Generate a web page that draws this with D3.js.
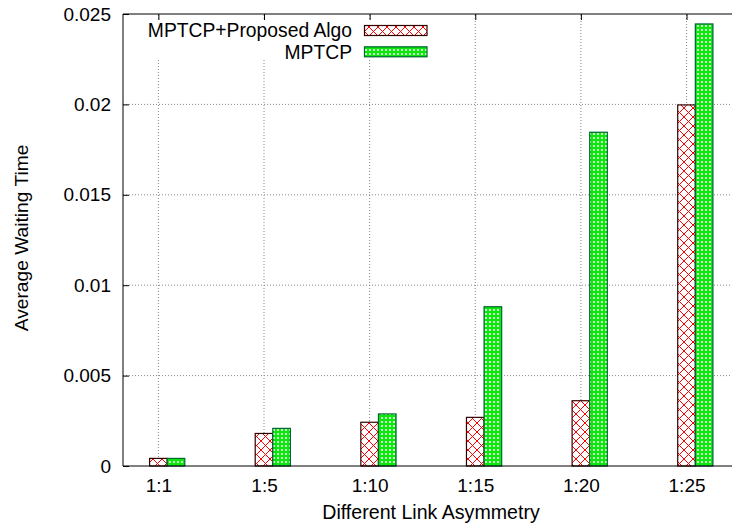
<!DOCTYPE html>
<html>
<head>
<meta charset="utf-8">
<script src="https://cdn.jsdelivr.net/npm/d3@7"></script>
<style>
  body { margin: 0; background: #fff; }
  svg text { font-family: "Liberation Sans", Arial, Helvetica, sans-serif; fill: #000; }
  .grid line { stroke: #888; stroke-dasharray: 1,2; }
</style>
</head>
<body>
<svg width="732" height="528"></svg>
<script>
// data
const categories = ["1:1", "1:5", "1:10", "1:15", "1:20", "1:25"];
const proposed = [0.00042, 0.0018, 0.00242, 0.00269, 0.00361, 0.01997];
const mptcp = [0.00042, 0.00208, 0.00288, 0.00881, 0.01846, 0.02445];
const seriesNames = ["MPTCP+Proposed Algo", "MPTCP"];
const yTicks = [0, 0.005, 0.01, 0.015, 0.02, 0.025];

const svg = d3.select('svg');
const plotLeft = 123, plotTop = 14, plotBottom = 466, plotRight = 733;
const fontSize = 19;

const xScale = d3.scaleLinear()
  .domain([-0.335, 5.44])
  .range([plotLeft, plotRight]);

const yScale = d3.scaleLinear()
  .domain([0, 0.025])
  .range([plotBottom, plotTop]);

const barW = 1 / 6;

// patterns
const defs = svg.append('defs');
const redPat = defs.append('pattern')
  .attr('id', 'redhatch')
  .attr('patternUnits', 'userSpaceOnUse')
  .attr('width', 9).attr('height', 9);
redPat.append('rect').attr('width', 9).attr('height', 9).attr('fill', '#fff');
redPat.append('path').attr('d', 'M0,0L9,9M9,0L0,9M-1,8L1,10M8,-1L10,1')
  .attr('stroke', '#ff0000').attr('stroke-width', 1).attr('fill', 'none');

const greenPat = defs.append('pattern')
  .attr('id', 'greenhatch')
  .attr('patternUnits', 'userSpaceOnUse')
  .attr('width', 4).attr('height', 4);
greenPat.append('rect').attr('width', 4).attr('height', 4).attr('fill', '#0be80b');
greenPat.append('circle').attr('cx', 2).attr('cy', 2).attr('r', 1.1).attr('fill', '#fff');

// grid
const grid = svg.append('g').attr('class', 'grid');
grid.selectAll('.hg')
  .data(yTicks.slice(1, -1))
  .enter().append('line')
  .attr('x1', plotLeft).attr('x2', plotRight)
  .attr('y1', d => yScale(d)).attr('y2', d => yScale(d));
grid.selectAll('.vg')
  .data(categories)
  .enter().append('line')
  .attr('x1', (d, i) => xScale(i)).attr('x2', (d, i) => xScale(i))
  .attr('y1', plotBottom).attr('y2', plotTop);

// legend background hides the grid
svg.append('rect')
  .attr('x', 140).attr('y', 19).attr('width', 298).attr('height', 41)
  .attr('fill', '#fff');

// axes (gnuplot style ticks on all borders, inward)
svg.append('g')
  .attr('transform', `translate(${plotLeft},0)`)
  .call(d3.axisLeft(yScale).tickValues(yTicks).tickSize(-6).tickPadding(12)
    .tickFormat(d => d === 0 ? '0' : String(+d.toFixed(3))))
  .call(g => g.select('.domain').remove())
  .call(g => g.selectAll('text').attr('font-size', fontSize).attr('font-family', null));

svg.append('g')
  .attr('transform', `translate(0,${plotBottom})`)
  .call(d3.axisBottom(xScale).tickValues(d3.range(categories.length))
    .tickFormat(i => categories[i]).tickSize(-6).tickPadding(12.5))
  .call(g => g.select('.domain').remove())
  .call(g => g.selectAll('text').attr('font-size', fontSize).attr('font-family', null));

svg.append('g')
  .attr('transform', `translate(0,${plotTop})`)
  .call(d3.axisTop(xScale).tickValues(d3.range(categories.length)).tickSize(-6).tickFormat(''))
  .call(g => g.select('.domain').remove());

// bars
const bars = svg.append('g');
bars.selectAll('.red')
  .data(proposed)
  .enter().append('rect')
  .attr('x', (d, i) => xScale(i - barW / 2))
  .attr('width', xScale(barW) - xScale(0))
  .attr('y', d => yScale(d))
  .attr('height', d => plotBottom - yScale(d))
  .attr('fill', 'url(#redhatch)')
  .attr('stroke', '#300')
  .attr('stroke-width', 1.2);

bars.selectAll('.green')
  .data(mptcp)
  .enter().append('rect')
  .attr('x', (d, i) => xScale(i + barW / 2))
  .attr('width', xScale(barW) - xScale(0))
  .attr('y', d => yScale(d))
  .attr('height', d => plotBottom - yScale(d))
  .attr('fill', 'url(#greenhatch)')
  .attr('stroke', '#063')
  .attr('stroke-width', 1.2);

// border
svg.append('path')
  .attr('d', `M${plotRight},${plotTop}H${plotLeft}V${plotBottom}H${plotRight}`)
  .attr('fill', 'none')
  .attr('stroke', '#000')
  .attr('stroke-width', 1);

// legend
const legend = svg.append('g');
const legFills = ['url(#redhatch)', 'url(#greenhatch)'];
const legStrokes = ['#300', '#063'];
seriesNames.forEach((name, i) => {
  const cy = 30.5 + i * 21.3;
  legend.append('text')
    .attr('x', 352).attr('y', cy)
    .attr('dy', '0.35em')
    .attr('text-anchor', 'end')
    .attr('font-size', 19.3)
    .text(name);
  legend.append('rect')
    .attr('x', 364.5).attr('y', cy - 5)
    .attr('width', 62.5).attr('height', 10)
    .attr('fill', legFills[i])
    .attr('stroke', legStrokes[i])
    .attr('stroke-width', 1.2);
});

// axis labels
svg.append('text')
  .attr('x', 431).attr('y', 519)
  .attr('text-anchor', 'middle')
  .attr('font-size', 19.6)
  .text('Different Link Asymmetry');

svg.append('text')
  .attr('transform', 'translate(28,238) rotate(-90)')
  .attr('text-anchor', 'middle')
  .attr('font-size', 19.2)
  .text('Average Waiting Time');
</script>
</body>
</html>
